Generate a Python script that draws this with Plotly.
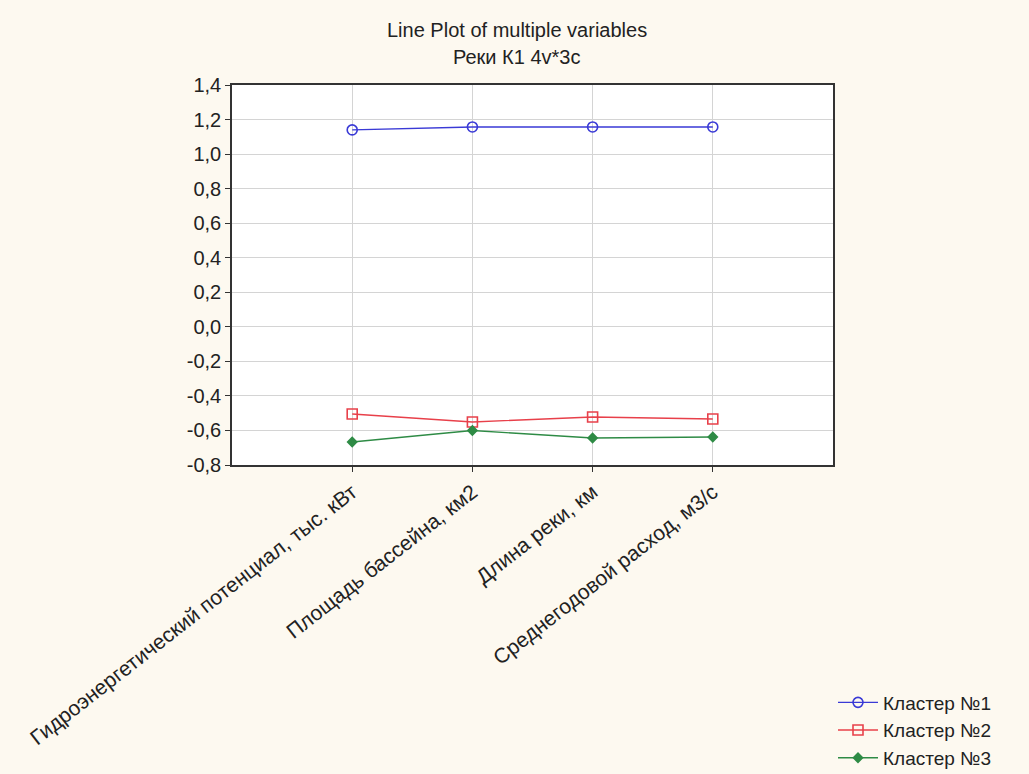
import plotly.graph_objects as go

variables = [
    "Гидроэнергетический потенциал, тыс. кВт",
    "Площадь бассейна, км2",
    "Длина реки, км",
    "Среднегодовой расход, м3/с",
]
cluster1 = [1.14, 1.157, 1.157, 1.157]
cluster2 = [-0.505, -0.551, -0.522, -0.534]
cluster3 = [-0.667, -0.600, -0.644, -0.638]
series_names = ["Кластер №1", "Кластер №2", "Кластер №3"]

y_ticks = [-0.8, -0.6, -0.4, -0.2, 0.0, 0.2, 0.4, 0.6, 0.8, 1.0, 1.2, 1.4]
y_tick_text = ["-0,8", "-0,6", "-0,4", "-0,2", "0,0", "0,2", "0,4", "0,6",
               "0,8", "1,0", "1,2", "1,4"]

title_lines = ["Line Plot of multiple variables", "Реки К1 4v*3c"]

styles = [
    dict(color="#3a3ad6", symbol="circle-open", size=10),
    dict(color="#e8404a", symbol="square-open", size=10),
    dict(color="#2e8b45", symbol="diamond", size=7),
]

fig = go.Figure()
for name, vals, st in zip(series_names, [cluster1, cluster2, cluster3], styles):
    fig.add_trace(go.Scatter(
        x=variables, y=vals, name=name, mode="lines+markers",
        line=dict(color=st["color"], width=1.4),
        marker=dict(symbol=st["symbol"], size=st["size"], color=st["color"],
                    line=dict(color=st["color"], width=1.6)),
    ))

font_family = "Liberation Sans, Arial, sans-serif"
text_color = "#222222"

# two-line heading drawn as separate annotations for wider line spacing
for line, ypos in zip(title_lines, [1.145, 1.074]):
    fig.add_annotation(
        text=line, xref="paper", yref="paper", x=0.474, y=ypos,
        xanchor="center", yanchor="middle", showarrow=False,
        font=dict(size=20, color=text_color, family=font_family),
    )

fig.update_layout(
    width=1029, height=774, autosize=False,
    paper_bgcolor="#fdf9f0",
    plot_bgcolor="#ffffff",
    margin=dict(l=232, r=196, t=85, b=309, autoexpand=False),
    font=dict(family=font_family, size=20, color=text_color),
    showlegend=True,
    legend=dict(
        x=1.0, xanchor="left", y=-0.575, yanchor="top",
        bgcolor="rgba(0,0,0,0)", font=dict(size=19),
        itemwidth=40, tracegroupgap=0,
    ),
)

fig.update_xaxes(
    type="category", range=[-1, 4], automargin=False,
    showgrid=True, gridcolor="#d4d4d4", gridwidth=1,
    showline=True, linecolor="#333333", linewidth=1.5, mirror=True,
    ticks="outside", ticklen=5, tickcolor="#333333",
    tickangle=-38, tickfont=dict(size=21),
)
fig.update_yaxes(
    range=[-0.8, 1.4], tickvals=y_ticks, ticktext=y_tick_text, automargin=False,
    showgrid=True, gridcolor="#d4d4d4", gridwidth=1, zeroline=False,
    showline=True, linecolor="#333333", linewidth=1.5, mirror=True,
    ticks="outside", ticklen=5, tickcolor="#333333",
    tickfont=dict(size=20),
)

fig.write_html("out.html")
